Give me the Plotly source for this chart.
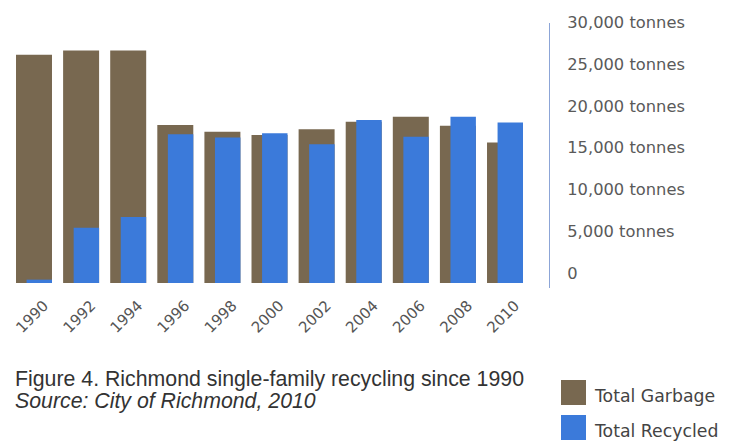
import plotly.graph_objects as go

years = ["1990", "1992", "1994", "1996", "1998", "2000", "2002", "2004", "2006", "2008", "2010"]
garbage = [27300, 27800, 27800, 18900, 18100, 17700, 18400, 19300, 19900, 18800, 16800]
recycled = [400, 6600, 7900, 17800, 17400, 17900, 16600, 19500, 17500, 19900, 19200]
y_tickvals = [0, 5000, 10000, 15000, 20000, 25000, 30000]
y_ticktext = ["0", "5,000 tonnes", "10,000 tonnes", "15,000 tonnes",
              "20,000 tonnes", "25,000 tonnes", "30,000 tonnes"]

BROWN = "rgb(120,104,80)"
BLUE = "rgb(59,122,218)"

# page body has an 8px margin; figure sized to fit the 730x441 window
OFF = 8
W, H = 722, 433
ML, MR, MT, MB = 0, 181, 15, 153
PW = W - ML - MR
PH = H - MT - MB


def px_x(x):
    return (x - OFF - ML) / PW


def px_y(y):
    return (H - MB - (y - OFF)) / PH


fig = go.Figure()
fig.add_trace(go.Bar(x=years, y=garbage, name="Total Garbage",
                     marker=dict(color=BROWN, line=dict(width=0)),
                     width=0.764, offset=-0.382, showlegend=False))
fig.add_trace(go.Bar(x=years, y=recycled, name="Total Recycled",
                     marker=dict(color=BLUE, line=dict(width=0)),
                     width=0.54, offset=-0.158, showlegend=False))

fig.update_layout(
    width=W, height=H,
    margin=dict(l=ML, r=MR, t=MT, b=MB, pad=0),
    paper_bgcolor="white", plot_bgcolor="white",
    barmode="overlay",
    xaxis=dict(type="category", range=[-0.552, 10.934], showgrid=False,
               zeroline=False, showline=False, ticks="", tickangle=-45,
               tickfont=dict(family="DejaVu Sans", size=15, color="#555555"),
               ticklabelshift=10, ticklabelstandoff=5),
    yaxis=dict(side="right", range=[-600, 31100], showgrid=False,
               zeroline=False, showline=True, linecolor="rgb(140,165,215)",
               linewidth=1, ticks="", tickvals=y_tickvals, ticktext=y_ticktext,
               tickfont=dict(family="DejaVu Sans", size=16.3, color="#5a5a5a"),
               ticklabelshift=-10, ticklabelstandoff=14),
)

title_font = dict(family="Liberation Sans", size=21.3, color="#333333")
fig.add_annotation(text="Figure 4. Richmond single-family recycling since 1990",
                   xref="paper", yref="paper", x=px_x(13), y=px_y(379),
                   xanchor="left", yanchor="middle", showarrow=False,
                   font=title_font)
fig.add_annotation(text="<i>Source: City of Richmond, 2010</i>",
                   xref="paper", yref="paper", x=px_x(13), y=px_y(401),
                   xanchor="left", yanchor="middle", showarrow=False,
                   font=title_font)

legend_items = [("Total Garbage", BROWN, 380), ("Total Recycled", BLUE, 415)]
for label, color, top in legend_items:
    fig.add_shape(type="rect", xref="paper", yref="paper",
                  x0=px_x(561), x1=px_x(586), y0=px_y(top + 25), y1=px_y(top),
                  fillcolor=color, line=dict(width=0))
    fig.add_annotation(text=label, xref="paper", yref="paper",
                       x=px_x(592), y=px_y(top + 16), xanchor="left",
                       yanchor="middle", showarrow=False,
                       font=dict(family="DejaVu Sans", size=17.3, color="#444444"))

fig.write_html("out.html")
